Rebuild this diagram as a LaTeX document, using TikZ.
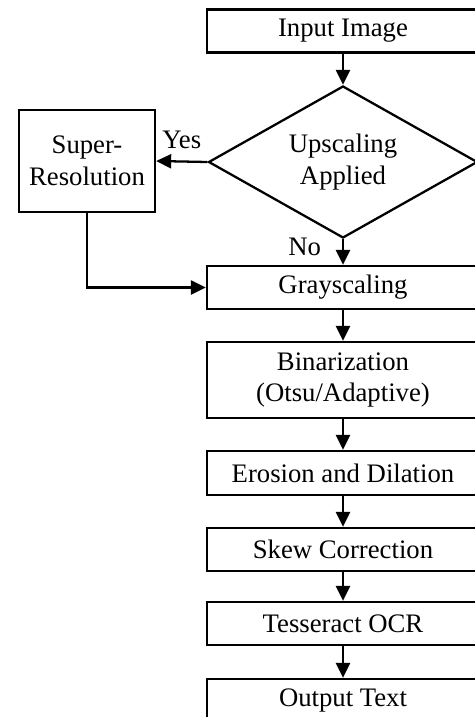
\documentclass[tikz,border=0pt]{standalone}
\usepackage{fontspec}
\setmainfont{Liberation Serif}
\usepackage{tikz}
\usetikzlibrary{arrows.meta,shapes.geometric}

\begin{document}
\begin{tikzpicture}[x=1cm,y=1cm,
    every node/.style={font=\fontsize{15.2pt}{18.2pt}\selectfont, align=center},
    procbox/.style={draw,line width=1.3pt,minimum width=5.44cm,minimum height=0.86cm,inner sep=2pt},
    decbox/.style={draw,diamond,aspect=1.77,line width=1.3pt,minimum width=5.38cm,minimum height=3.04cm,inner sep=0pt},
    flow/.style={-{Triangle[length=0.3cm,width=0.28cm]},line width=1.3pt}]
  \clip (0,0) rectangle (9.5,-14.34);
  \useasboundingbox (0,0) rectangle (9.5,-14.34);

  \node[procbox] (input) at (6.86,-0.62) {Input Image};
  \node[decbox] (upscale) at (6.86,-3.24) {Upscaling\\Applied};
  \node[procbox,minimum width=2.72cm,minimum height=2.04cm] (superres) at (1.74,-3.22) {Super-\\Resolution};
  \node[procbox] (gray) at (6.86,-5.75) {Grayscaling};
  \node[procbox,minimum height=1.52cm] (binar) at (6.86,-7.6) {Binarization\\(Otsu/Adaptive)};
  \node[procbox,minimum height=0.88cm] (morph) at (6.86,-9.46) {Erosion and Dilation};
  \node[procbox] (skew) at (6.86,-10.99) {Skew Correction};
  \node[procbox] (ocr) at (6.86,-12.47) {Tesseract OCR};
  \node[procbox] (output) at (6.86,-14.01) {Output Text};

  \draw[flow] (input) -- (upscale);
  \draw[flow] (upscale.west) -- node[above=3pt]{Yes} (superres.east);
  \draw[flow] (upscale.south) -- node[pos=0.3,left=0.3cm]{No} (gray.north);
  \draw[flow] (superres.south) |- (gray.west);
  \draw[flow] (gray) -- (binar);
  \draw[flow] (binar) -- (morph);
  \draw[flow] (morph) -- (skew);
  \draw[flow] (skew) -- (ocr);
  \draw[flow] (ocr) -- (output);
\end{tikzpicture}
\end{document}
